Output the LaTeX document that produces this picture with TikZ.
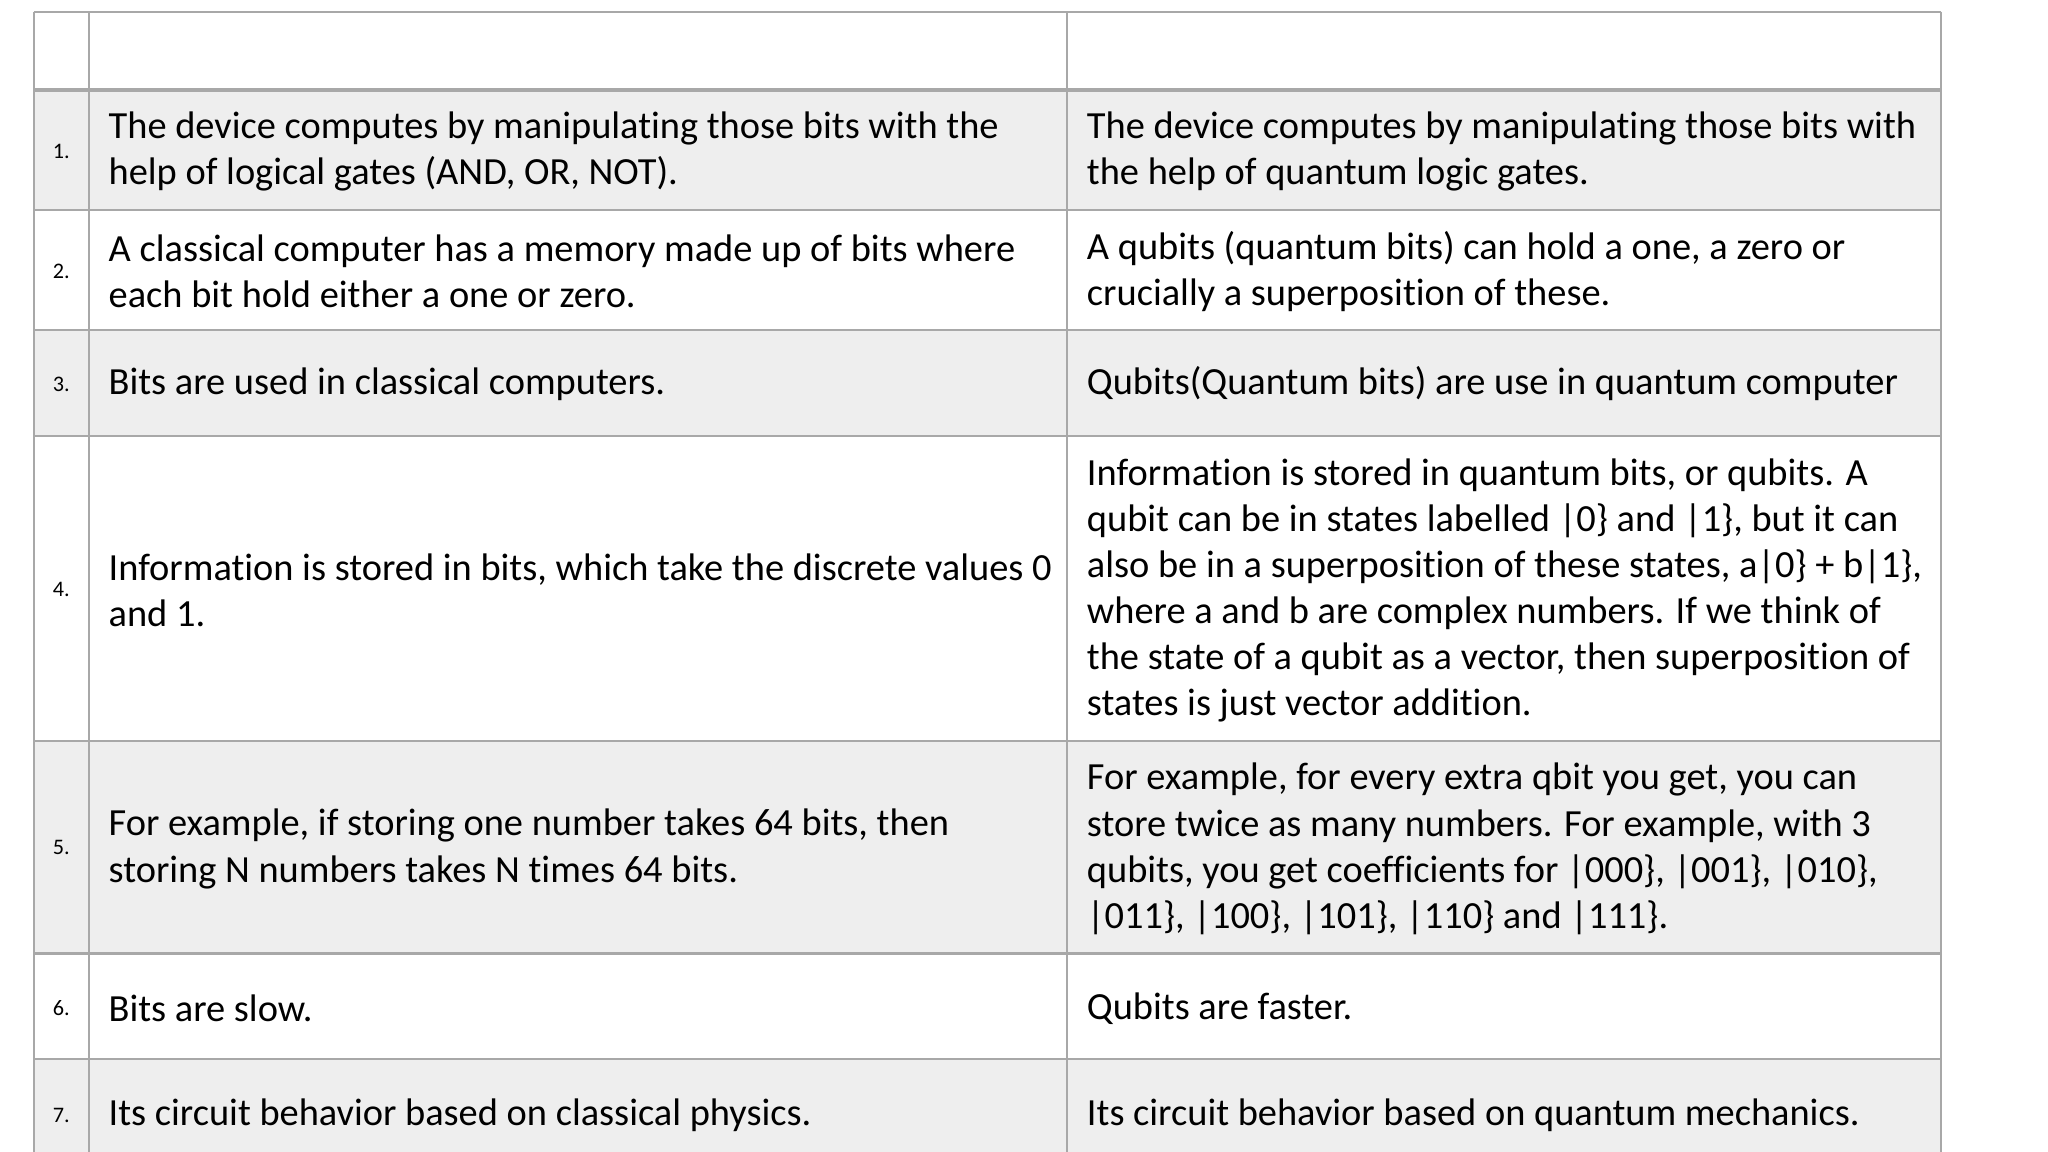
\documentclass[tikz,border=0pt]{standalone}
\usepackage{fontspec}
\setmainfont[Ligatures={NoCommon,NoRare}]{Carlito}
\definecolor{rowgray}{HTML}{EEEEEE}
\definecolor{rulegray}{HTML}{A8A8A8}
\begin{document}
\begin{tikzpicture}[x=1pt,y=-1pt,
  txt/.style={anchor=west,align=left,inner sep=0pt,font=\fontsize{29.4}{35.3}\selectfont},
  num/.style={inner sep=0pt,font=\fontsize{17}{20}\selectfont}]
\useasboundingbox (0,0) rectangle (1568,882);
\fill[white] (0,0) rectangle (1568,882);
% shaded rows
\foreach \a/\b in {69/161,253/334,567/730,811/882}
  \fill[rowgray] (26,\a) rectangle (1486,\b);
% horizontal rules
\foreach \y in {161,253,334,567,730,811}
  \draw[rulegray,line width=1.6pt] (26,\y) -- (1486,\y);
\draw[rulegray,line width=1.6pt] (26,9) -- (1486,9);
\draw[rulegray,line width=3pt] (26,69) -- (1486,69);
% vertical rules
\foreach \x in {26,68,817,1486}
  \draw[rulegray,line width=1.6pt] (\x,9) -- (\x,882);
% numbers
\node[num] (n1) at (47,116) {1.};
\node[num] (n2) at (47,208) {2.};
\node[num] (n3) at (47,294) {3.};
\node[num] (n4) at (47,451) {4.};
\node[num] (n5) at (47,649) {5.};
\node[num] (n6) at (47,772) {6.};
\node[num] (n7) at (47,854) {7.};
% column 1
\node[txt] (a1) at (83,116) {The device computes by manipulating those bits with the\\help of logical gates (AND, OR, NOT).};
\node[txt] (a2) at (83,208) {A classical computer has a memory made up of bits where\\each bit hold either a one or zero.};
\node[txt] (a3) at (83,294) {Bits are used in classical computers.};
\node[txt] (a4) at (83,452) {Information is stored in bits, which take the discrete values 0\\and 1.};
\node[txt] (a5) at (83,650) {For example, if storing one number takes 64 bits, then\\storing N numbers takes N times 64 bits.};
\node[txt] (a6) at (83,772) {Bits are slow.};
\node[txt] (a7) at (83,854) {Its circuit behavior based on classical physics.};
% column 2
\node[txt] (b1) at (832,116) {The device computes by manipulating those bits with\\the help of quantum logic gates.};
\node[txt] (b2) at (832,208) {A qubits (quantum bits) can hold a one, a zero or\\crucially a superposition of these.};
\node[txt] (b3) at (832,294) {Qubits(Quantum bits) are use in quantum computer};
\node[txt] (b4) at (832,452) {Information is stored in quantum bits, or qubits. A\\qubit can be in states labelled |0\} and |1\}, but it can\\also be in a superposition of these states, a|0\} + b|1\},\\where a and b are complex numbers. If we think of\\the state of a qubit as a vector, then superposition of\\states is just vector addition.};
\node[txt] (b5) at (832,650) {For example, for every extra qbit you get, you can\\store twice as many numbers. For example, with 3\\qubits, you get coefficients for |000\}, |001\}, |010\},\\|011\}, |100\}, |101\}, |110\} and |111\}.};
\node[txt] (b6) at (832,772) {Qubits are faster.};
\node[txt] (b7) at (832,854) {Its circuit behavior based on quantum mechanics.};
\end{tikzpicture}
\end{document}
